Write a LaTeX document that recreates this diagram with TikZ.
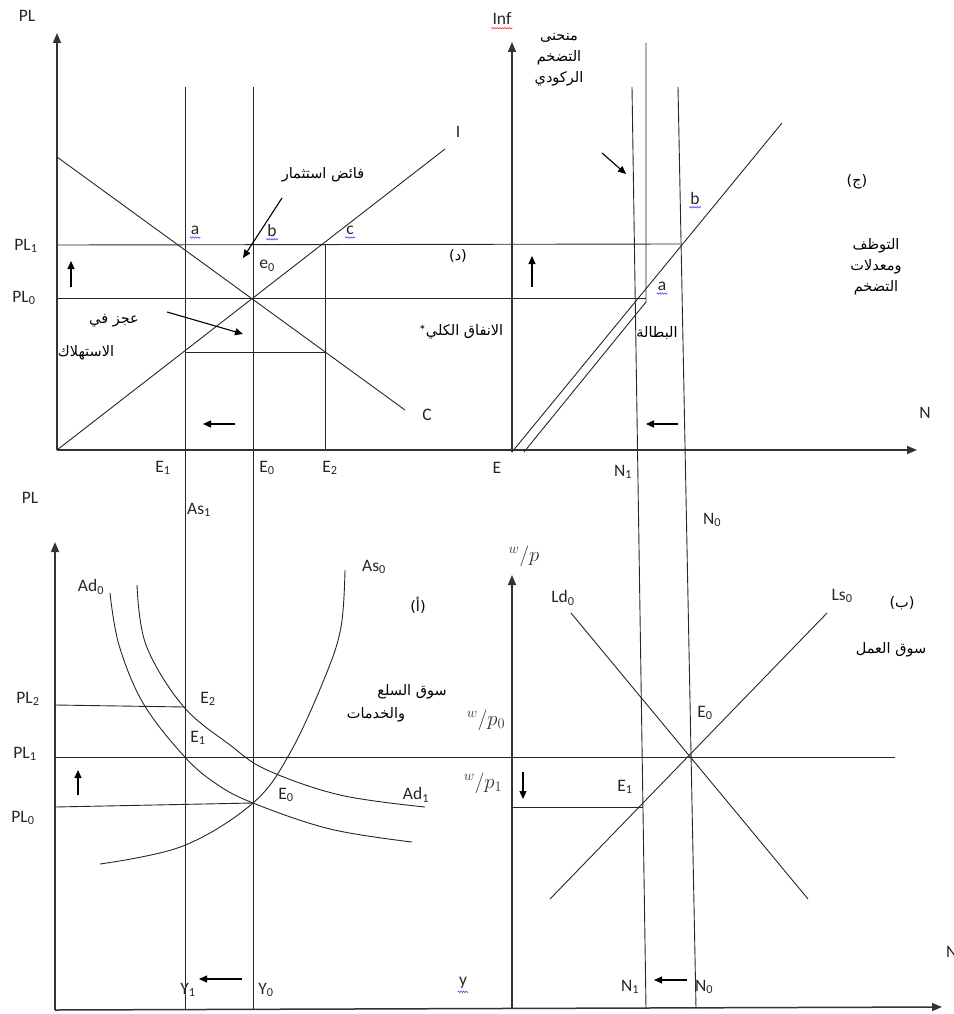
\documentclass[tikz,border=0pt]{standalone}
\usepackage{fontspec}
\setmainfont{Carlito}
\newfontfamily\arabicfont[Script=Arabic]{DejaVu Sans}
\TeXXeTstate=1
\usetikzlibrary{arrows.meta,decorations.pathmorphing}
\newcommand{\artext}[1]{{\arabicfont\beginR #1\endR}}
\tikzset{
  axisarrow/.style={-{Triangle[length=10pt,width=8pt]}, line width=1.5pt, draw=black!80},
  thinline/.style={line width=0.9pt, draw=black!85},
  shiftarrow/.style={-{Triangle[length=8pt,width=7pt]}, line width=1.1pt},
  lbl/.style={font=\fontsize{17.5}{20}\selectfont, inner sep=1pt, text=black!85},
  arlbl/.style={font=\fontsize{14.5}{21}\selectfont, inner sep=1pt, align=center},
  wp/.style={font=\fontsize{21}{23}\selectfont, inner sep=1pt, text=black!80},
  spellblue/.style={draw=blue!75, line width=0.6pt, decorate,
    decoration={snake, amplitude=0.7pt, segment length=2.5pt}},
  spellred/.style={spellblue, draw=red!80}
}

\begin{document}
\begin{tikzpicture}[x=1pt, y=-1pt]
  \useasboundingbox (0,0) rectangle (953,1014);
  % axes
  \coordinate (tlO) at (57,450);
  \coordinate (tlY) at (57,33);
  \coordinate (tX) at (917,450);
  \coordinate (trO) at (512,452);
  \coordinate (trY) at (512,42);
  \coordinate (blO) at (55,1010);
  \coordinate (blY) at (55,542);
  \coordinate (bX) at (942,1007);
  \coordinate (brO) at (512,1008);
  \coordinate (brY) at (512,575);
  \draw[axisarrow] (tlO) -- (tlY);
  \draw[axisarrow] (tlO) -- (tX);
  \draw[axisarrow] (trO) -- (trY);
  \draw[axisarrow] (blO) -- (blY);
  \draw[axisarrow] (blO) -- (bX);
  \draw[axisarrow] (brO) -- (brY);

  % verticals through both panels
  \coordinate (vE1t) at (185,87);  \coordinate (vE1b) at (185,1009);
  \coordinate (vE0t) at (253,87);  \coordinate (vE0b) at (253,1009);
  \coordinate (vE2t) at (325,245); \coordinate (vE2b) at (325,450);
  \coordinate (vN1t) at (632,87);  \coordinate (vN1b) at (646,1008);
  \coordinate (vN0t) at (678,87);  \coordinate (vN0b) at (696,1008);
  \draw[thinline] (vE1t) -- (vE1b);
  \draw[thinline] (vE0t) -- (vE0b);
  \draw[thinline] (vE2t) -- (vE2b);
  \draw[thinline] (vN1t) -- (vN1b);
  \draw[thinline] (vN0t) -- (vN0b);

  % top horizontals
  \coordinate (hPL1a) at (57,245);  \coordinate (hPL1b) at (680,244);
  \coordinate (hPL0a) at (57,298);  \coordinate (hPL0b) at (646,298);
  \coordinate (hLowa) at (185,352); \coordinate (hLowb) at (325,352);
  \draw[thinline] (hPL1a) -- (hPL1b);
  \draw[thinline] (hPL0a) -- (hPL0b);
  \draw[thinline] (hLowa) -- (hLowb);

  % C and I
  \coordinate (Cs) at (57,157); \coordinate (Ce) at (405,410);
  \coordinate (Ie) at (445,149);
  \draw[thinline] (Cs) -- (Ce);
  \draw[thinline] (tlO) -- (Ie);

  % inflation curves
  \coordinate (phE) at (782,123);
  \coordinate (stT) at (646,43); \coordinate (stK) at (646,302); \coordinate (stB) at (524,452);
  \draw[thinline] (trO) -- (phE);
  \draw[thinline] (stT) -- (stK) -- (stB);

  % bottom horizontals
  \coordinate (bPL2a) at (55,705); \coordinate (bPL2b) at (185,707);
  \coordinate (bPL1a) at (55,757); \coordinate (bPL1b) at (895,757);
  \coordinate (bPL0a) at (55,807); \coordinate (bPL0b) at (253,803);
  \coordinate (wp1a) at (512,807); \coordinate (wp1b) at (643,807);
  \draw[thinline] (bPL2a) -- (bPL2b);
  \draw[thinline] (bPL1a) -- (bPL1b);
  \draw[thinline] (bPL0a) -- (bPL0b);
  \draw[thinline] (wp1a) -- (wp1b);

  % Ad and As curves
  \draw[thinline] plot[smooth, tension=0.6] coordinates
    {(110,593) (119,645) (143,703) (183,755) (215,783) (253,803) (330,829) (412,842)};
  \draw[thinline] plot[smooth, tension=0.6] coordinates
    {(137,585) (146,645) (183,706) (230,745) (267,770) (340,795) (425,807)};
  \draw[thinline] plot[smooth, tension=0.6] coordinates
    {(345,570) (341,627) (325,677) (290,753) (253,803) (183,846) (100,864)};

  % labour market
  \coordinate (Ld0s) at (571,613); \coordinate (Ld0e) at (808,899);
  \coordinate (Ls0s) at (827,613); \coordinate (Ls0e) at (550,899);
  \draw[thinline] (Ld0s) -- (Ld0e);
  \draw[thinline] (Ls0s) -- (Ls0e);

  % shift arrows
  \coordinate (a1s) at (71,287);  \coordinate (a1e) at (71,261);
  \coordinate (a2s) at (235,424); \coordinate (a2e) at (203,424);
  \coordinate (a3s) at (282,198); \coordinate (a3e) at (243,258);
  \coordinate (a4s) at (167,312); \coordinate (a4e) at (243,334);
  \coordinate (a5s) at (532,287); \coordinate (a5e) at (532,256);
  \coordinate (a6s) at (602,153); \coordinate (a6e) at (626,174);
  \coordinate (a7s) at (678,424); \coordinate (a7e) at (646,424);
  \coordinate (a8s) at (78,795);  \coordinate (a8e) at (78,770);
  \coordinate (a9s) at (242,979); \coordinate (a9e) at (199,979);
  \coordinate (a10s) at (523,772); \coordinate (a10e) at (523,799);
  \coordinate (a11s) at (687,980); \coordinate (a11e) at (654,980);
  \foreach \s/\e in {a1s/a1e,a2s/a2e,a3s/a3e,a4s/a4e,a5s/a5e,a6s/a6e,
                     a7s/a7e,a8s/a8e,a9s/a9e,a10s/a10e,a11s/a11e}
    \draw[shiftarrow] (\s) -- (\e);

  % labels, top left
  \node[lbl] (tPL) at (27,16) {PL};
  \node[lbl] (tPL1) at (26,246) {PL\textsubscript{1}};
  \node[lbl] (tPL0) at (24,298) {PL\textsubscript{0}};
  \node[lbl] (tI) at (458,132) {I};
  \node[lbl] (tC) at (427,415) {C};
  \node[lbl] (ta) at (195,230) {a};
  \node[lbl] (tb) at (272,230) {b};
  \node[lbl] (tc) at (350,230) {c};
  \node[lbl] (te0) at (267,266) {e\textsubscript{0}};
  \node[arlbl] (tsurplus) at (323,175) {\artext{فائض استثمار}};
  \node[arlbl] (tdef1) at (114,321) {\artext{عجز في}};
  \node[arlbl] (tdef2) at (86,353) {\artext{الاستهلاك}};
  \node[arlbl] (td) at (458,256) {\arabicfont (د)};
  \node[arlbl] (tspend) at (461,332) {*\artext{الانفاق الكلي}};
  \node[lbl] (tE1) at (163,468) {E\textsubscript{1}};
  \node[lbl] (tE0) at (267,468) {E\textsubscript{0}};
  \node[lbl] (tE2) at (330,468) {E\textsubscript{2}};

  % labels, top right
  \node[lbl] (tInf) at (502,19) {Inf};
  \node[arlbl] (tstag) at (559,60) {\artext{منحنى}\\\artext{التضخم}\\\artext{الركودي}};
  \node[lbl] (tb2) at (695,198) {b};
  \node[lbl] (ta2) at (662,286) {a};
  \node[arlbl] (tunemp) at (657,333) {\artext{البطالة}};
  \node[arlbl] (tj) at (857,182) {\arabicfont (ج)};
  \node[arlbl] (temp) at (876,267) {\artext{التوظف}\\\artext{ومعدلات}\\\artext{التضخم}};
  \node[lbl] (tN) at (925,413) {N};
  \node[lbl] (tE) at (497,468) {E};
  \node[lbl] (tN1) at (623,472) {N\textsubscript{1}};

  % labels, bottom left
  \node[lbl] (bPL) at (30,498) {PL};
  \node[lbl] (bAs1) at (199,510) {As\textsubscript{1}};
  \node[lbl] (bAs0) at (374,567) {As\textsubscript{0}};
  \node[lbl] (bAd0) at (91,587) {Ad\textsubscript{0}};
  \node[arlbl] (balef) at (418,605) {\arabicfont (أ)};
  \node[arlbl] (bgoods1) at (412,692) {\artext{سوق السلع}};
  \node[arlbl] (bgoods2) at (376,715) {\artext{والخدمات}};
  \node[lbl] (bPL2) at (28,699) {PL\textsubscript{2}};
  \node[lbl] (bPL1) at (25,754) {PL\textsubscript{1}};
  \node[lbl] (bPL0) at (23,818) {PL\textsubscript{0}};
  \node[lbl] (bE2) at (208,699) {E\textsubscript{2}};
  \node[lbl] (bE1) at (198,738) {E\textsubscript{1}};
  \node[lbl] (bE0) at (286,795) {E\textsubscript{0}};
  \node[lbl] (bAd1) at (416,795) {Ad\textsubscript{1}};
  \node[lbl] (bY1) at (188,990) {Y\textsubscript{1}};
  \node[lbl] (bY0) at (266,990) {Y\textsubscript{0}};
  \node[lbl] (by) at (463,983) {y};

  % labels, bottom right
  \node[lbl] (bN0t) at (712,520) {N\textsubscript{0}};
  \node[wp] (bwp) at (524,556) {${}^{w}/p$};
  \node[lbl] (bLd0) at (563,598) {Ld\textsubscript{0}};
  \node[lbl] (bLs0) at (842,596) {Ls\textsubscript{0}};
  \node[arlbl] (bba) at (902,603) {\arabicfont (ب)};
  \node[arlbl] (blabour) at (891,650) {\artext{سوق العمل}};
  \node[wp] (bwp0) at (486,720) {${}^{w}/p_{0}$};
  \node[lbl] (bE0r) at (705,713) {E\textsubscript{0}};
  \node[wp] (bwp1) at (483,783) {${}^{w}/p_{1}$};
  \node[lbl] (bE1r) at (625,787) {E\textsubscript{1}};
  \node[lbl] (bN1) at (630,987) {N\textsubscript{1}};
  \node[lbl] (bN0) at (704,987) {N\textsubscript{0}};
  \node[lbl, anchor=west] (bN) at (945,952) {N};

  % spelling marks
  \foreach \n in {ta,tb,tc,tb2,ta2,by}
    \draw[spellblue] ([yshift=-2pt]\n.south west) -- ([yshift=-2pt]\n.south east);
  \draw[spellred] ([yshift=-2pt]tInf.south west) -- ([yshift=-2pt]tInf.south east);
\end{tikzpicture}
\end{document}
